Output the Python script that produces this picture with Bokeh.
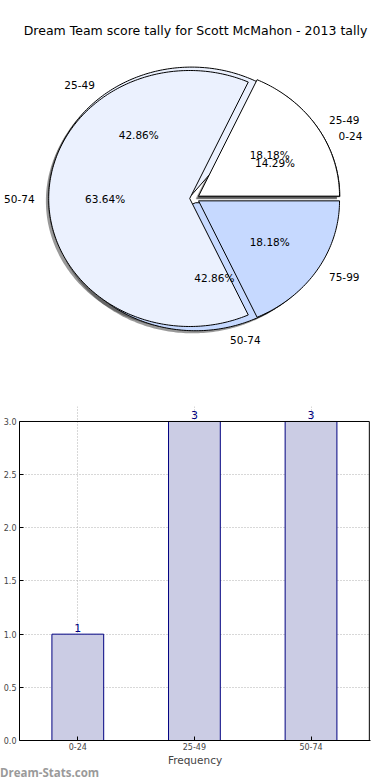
import numpy as np
from bokeh.plotting import figure
from bokeh.models import (ColumnDataSource, Range1d, LabelSet, Div,
                          FixedTicker, PrintfTickFormatter)
from bokeh.core.properties import value
from bokeh.embed import file_html
from bokeh.resources import INLINE

title_text = "Dream Team score tally for Scott McMahon - 2013 tally"

pie_a_labels = ["0-24", "25-49", "50-74"]
pie_a_values = [1, 3, 3]
pie_b_labels = ["25-49", "50-74", "75-99"]
pie_b_values = [2, 7, 2]
wedge_colors = ["#ffffff", "#ebf1fe", "#c6d9ff"]

bar_categories = ["0-24", "25-49", "50-74"]
bar_values = [1, 3, 3]
bar_axis_label = "Frequency"
y_ticks = [0, 0.5, 1.0, 1.5, 2.0, 2.5, 3.0]
watermark = "Dream-Stats.com"

FONT = "DejaVu Sans"
EXPLODE = 0.034
SHADOW_DX, SHADOW_DY = -0.02, -0.02

# pie canvas geometry (pixels)
PX_X, PX_Y = 141.0, 128.0
P1_W, P1_H = 388, 376
CX, CY = 194.0, 198.0       # pie centre, px from canvas left / top
TITLE_X, TITLE_Y = 195.0, 30.0


def pie_geometry(values, labels):
    v = np.asarray(values, dtype=float)
    frac = v / v.sum()
    edges = np.concatenate([[0.0], np.cumsum(frac)]) * 2 * np.pi
    xs, ys, mids, offs = [], [], [], []
    for t1, t2 in zip(edges[:-1], edges[1:]):
        mid = 0.5 * (t1 + t2)
        ox, oy = EXPLODE * np.cos(mid), EXPLODE * np.sin(mid)
        n = max(8, int(np.degrees(t2 - t1)))
        th = np.linspace(t1, t2, n)
        xs.append(np.concatenate([[ox], ox + np.cos(th), [ox]]))
        ys.append(np.concatenate([[oy], oy + np.sin(th), [oy]]))
        mids.append(mid)
        offs.append((ox, oy))
    mids = np.array(mids)
    offs = np.array(offs)
    pct = dict(x=offs[:, 0] + 0.6 * np.cos(mids), y=offs[:, 1] + 0.6 * np.sin(mids),
               text=["%.2f%%" % (f * 100) for f in frac])
    lx = offs[:, 0] + 1.1 * np.cos(mids)
    ly = offs[:, 1] + 1.1 * np.sin(mids)
    align = ["left" if a > 0 else "right" for a in lx]
    names = dict(x=lx, y=ly, text=list(labels), align=align)
    return xs, ys, pct, names


# ---------------- pie figure (frame = whole canvas) ----------------
p1 = figure(width=P1_W, height=P1_H, output_backend="svg",
            toolbar_location=None, x_axis_location=None, y_axis_location=None,
            min_border_left=0, min_border_right=0, min_border_top=0, min_border_bottom=0,
            x_range=Range1d(-CX / PX_X, (P1_W - CX) / PX_X),
            y_range=Range1d(-(P1_H - CY) / PX_Y, CY / PX_Y))
p1.grid.visible = False
p1.outline_line_color = None

geoA = pie_geometry(pie_a_values, pie_a_labels)
geoB = pie_geometry(pie_b_values, pie_b_labels)

for geo in (geoA, geoB):
    xs, ys = geo[0], geo[1]
    p1.patches(xs=[x + SHADOW_DX for x in xs], ys=[y + SHADOW_DY for y in ys],
               fill_color="#333333", fill_alpha=0.5, line_color=None)

for geo in (geoA, geoB):
    xs, ys, pct, names = geo
    src = ColumnDataSource(dict(xs=xs, ys=ys, color=wedge_colors[:len(xs)]))
    p1.patches(xs="xs", ys="ys", source=src, fill_color="color",
               line_color="black", line_width=1)

for geo in (geoA, geoB):
    xs, ys, pct, names = geo
    p1.text(x="x", y="y", text="text", source=ColumnDataSource(pct),
            text_align="center", text_baseline="middle",
            text_font=value(FONT), text_font_size="10.5px", text_color="black")
    p1.text(x="x", y="y", text="text", source=ColumnDataSource(names),
            text_align="align", text_baseline="middle",
            text_font=value(FONT), text_font_size="10.5px", text_color="black")

# chart title
p1.text(x=[(TITLE_X - CX) / PX_X], y=[(CY - TITLE_Y) / PX_Y], text=[title_text],
        text_align="center", text_baseline="middle",
        text_font=value(FONT), text_font_size="12.5px", text_color="black")

# ---------------- bar figure ----------------
xpos = list(range(len(bar_categories)))
y_top = max(y_ticks)
x_lo, x_hi = -0.5, len(bar_categories) - 0.5
p2 = figure(frame_width=351, frame_height=334, output_backend="svg", toolbar_location=None,
            x_range=Range1d(x_lo, x_hi + 0.01), y_range=Range1d(0, y_top * 1.047),
            min_border_left=19, min_border_right=18, min_border_top=30, min_border_bottom=0)
p2.outline_line_color = None
bsrc = ColumnDataSource(dict(x=xpos, val=bar_values, lab=[str(v) for v in bar_values]))
p2.vbar(x="x", top="val", width=0.444, source=bsrc,
        fill_color="#cbcce4", line_color="#000080", line_width=1)
p2.add_layout(LabelSet(x="x", y="val", text="lab", source=bsrc, y_offset=2,
                       text_align="center", text_baseline="bottom",
                       text_color="#000080", text_font=value(FONT), text_font_size="11px"))
# top and right sides of the axes box
p2.multi_line(xs=[[x_lo, x_hi], [x_hi, x_hi]], ys=[[y_top, y_top], [0, y_top]],
              line_color="black", line_width=1)

for ax in (p2.xaxis[0], p2.yaxis[0]):
    ax.axis_line_color = "black"
    ax.major_tick_in = 4
    ax.major_tick_out = 0
    ax.minor_tick_line_color = None
    ax.major_label_text_font = FONT
    ax.major_label_text_font_size = "8px"
    ax.major_label_standoff = 3
    ax.major_tick_line_color = "black"
p2.yaxis[0].ticker = FixedTicker(ticks=y_ticks)
p2.yaxis[0].formatter = PrintfTickFormatter(format="%.1f")
p2.yaxis[0].bounds = (0, y_top)
p2.xaxis[0].ticker = FixedTicker(ticks=xpos)
p2.xaxis[0].major_label_overrides = {i: c for i, c in zip(xpos, bar_categories)}
p2.xaxis[0].major_label_standoff = 2
p2.xaxis[0].axis_label = bar_axis_label
p2.xaxis[0].axis_label_text_font = FONT
p2.xaxis[0].axis_label_text_font_size = "10.5px"
p2.xaxis[0].axis_label_text_font_style = "normal"
p2.xaxis[0].axis_label_standoff = 1
p2.grid.grid_line_color = "#b0b0b0"
p2.grid.grid_line_dash = "1 2"
p2.grid.grid_line_width = 1
p2.xgrid.bounds = (0, y_top)

wm = Div(text=watermark, width=200, height=10, margin=(0, 0, 0, 0),
         styles={"font-family": "Open Sans", "font-weight": "bold", "font-size": "11.5px",
                 "color": "#9a9a9a", "line-height": "10px"})

open("out.html", "w").write(file_html([p1, p2, wm], INLINE))
